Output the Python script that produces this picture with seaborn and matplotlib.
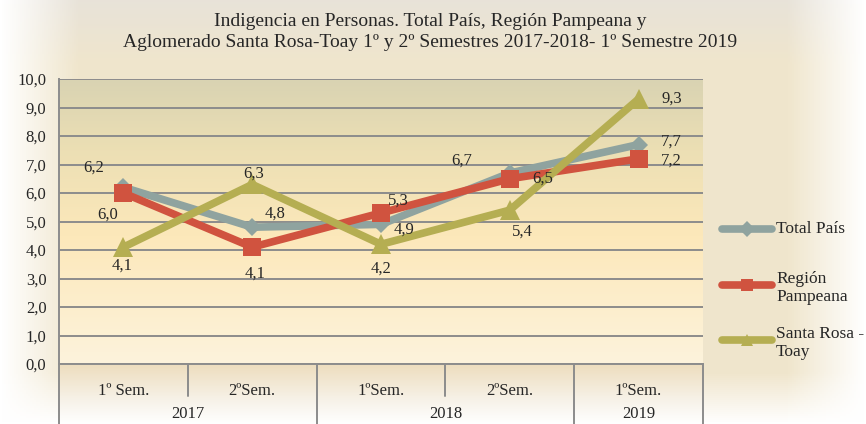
import numpy as np
import pandas as pd
import seaborn as sns
import matplotlib
matplotlib.use("Agg")
import matplotlib.pyplot as plt
from matplotlib.lines import Line2D
from matplotlib.colors import LinearSegmentedColormap
import matplotlib.transforms as mtransforms

# ---- data ----
semesters = ["1º Sem.", "2ºSem.", "1ºSem.", "2ºSem.", "1ºSem."]
years = ["2017", "2018", "2019"]
year_spans = [(0, 1), (2, 3), (4, 4)]
total_pais = [6.2, 4.8, 4.9, 6.7, 7.7]
region_pampeana = [6.0, 4.1, 5.3, 6.5, 7.2]
santa_rosa = [4.1, 6.3, 4.2, 5.4, 9.3]
series_names = ["Total País", "Región Pampeana", "Santa Rosa - Toay"]
legend_labels = ["Total País", "Región\nPampeana", "Santa Rosa -\nToay"]
y_ticks = [0, 1, 2, 3, 4, 5, 6, 7, 8, 9, 10]
title = ("Indigencia en Personas. Total País, Región Pampeana y\n"
         "Aglomerado Santa Rosa-Toay 1º y 2º Semestres 2017-2018- 1º Semestre 2019")

colors = ["#8FA39F", "#D0533F", "#B5AE52"]
markers = ["D", "s", "^"]
msizes = [9, 13, 14]
FS = 12

sns.set_style("white")
plt.rcParams["font.family"] = ["Liberation Serif", "DejaVu Serif"]

fig = plt.figure(figsize=(8.66, 4.24), dpi=100)

# figure background vignette
bg = fig.add_axes([0, 0, 1, 1], zorder=-10)
bg.set_axis_off()
h, w = 212, 433
yy, xx = np.mgrid[0:h, 0:w]
xn = xx / (w - 1)
yn = yy / (h - 1)
edge_x = np.clip(np.minimum(xn, 1 - xn) / 0.09, 0, 1)
edge_y = np.clip((1 - yn) / 0.12, 0, 1)
top_f = np.clip(yn / 0.15, 0, 1)
mix = edge_x * edge_y
base = np.array([0.94, 0.90, 0.80])
topc = np.array([0.91, 0.89, 0.85])
col = base[None, None, :] * top_f[..., None] + topc[None, None, :] * (1 - top_f[..., None])
img = col * mix[..., None] + np.ones(3) * (1 - mix[..., None])
bg.imshow(img, extent=[0, 1, 0, 1], aspect="auto", origin="upper")
bg.set_xlim(0, 1); bg.set_ylim(0, 1)

ax = fig.add_axes([59 / 866, 1 - 364 / 424, 644 / 866, 285 / 424])
ax.patch.set_alpha(0)

# plot area gradient
grad = LinearSegmentedColormap.from_list(
    "g", [(0, "#FDF3DC"), (0.45, "#FCE8BA"), (0.75, "#ECDFB4"), (1, "#D9D3B2")])
ax.imshow(np.linspace(0, 1, 256)[:, None], extent=[-0.5, 4.5, 0, 10], origin="lower",
          aspect="auto", cmap=grad, zorder=0)

x = np.arange(len(semesters))
df = pd.DataFrame({"x": np.tile(x, 3),
                   "valor": total_pais + region_pampeana + santa_rosa,
                   "serie": np.repeat(series_names, len(x))})

for name, c, m, ms in zip(series_names, colors, markers, msizes):
    sub = df[df["serie"] == name]
    sns.lineplot(data=sub, x="x", y="valor", color=c, linewidth=5.5, marker=m,
                 markersize=ms, markeredgewidth=0, ax=ax, zorder=3,
                 legend=False)

ax.set_xlim(-0.5, 4.5)
ax.set_ylim(0, 10)
ax.set_yticks(y_ticks)
ax.set_yticklabels([f"{v:.1f}".replace(".", ",") for v in y_ticks], fontsize=FS)
ax.yaxis.grid(True, color="#8C8C8C", linewidth=1.4, zorder=1)
ax.set_axisbelow(True)
ax.tick_params(axis="y", length=5, color="#8C8C8C", width=1.2, pad=4)
ax.set_xticks(x)
ax.set_xticklabels(semesters, fontsize=FS)
ax.tick_params(axis="x", length=0, pad=14)
ax.set_xlabel(""); ax.set_ylabel("")
for s in ["top", "right"]:
    ax.spines[s].set_visible(False)
ax.spines["left"].set_color("#8C8C8C")
ax.spines["left"].set_linewidth(1.4)
ax.spines["bottom"].set_color("#8C8C8C")
ax.spines["bottom"].set_linewidth(1.4)

# category area gradient below axis
cat = fig.add_axes([59 / 866, 0, 644 / 866, 60 / 424], zorder=-5)
cat.set_axis_off()
cgrad = LinearSegmentedColormap.from_list("c", [(0, "#FFFFFF"), (0.4, "#F7F2E8"), (1, "#EDDDBE")])
cat.imshow(np.linspace(0, 1, 128)[:, None], extent=[0, 1, 0, 1], origin="lower",
           aspect="auto", cmap=cgrad)

# separators
trans = mtransforms.blended_transform_factory(ax.transData, ax.transAxes)
for xb in [-0.5, 1.5, 3.5, 4.5]:
    ax.add_line(Line2D([xb, xb], [0, -0.22], transform=trans, color="#8C8C8C",
                       linewidth=1.4, clip_on=False))
for xb in [0.5, 2.5]:
    ax.add_line(Line2D([xb, xb], [0, -0.112], transform=trans, color="#8C8C8C",
                       linewidth=1.4, clip_on=False))
for yr, (a, b) in zip(years, year_spans):
    ax.text((a + b) / 2, -0.177, yr, transform=trans, ha="center", va="center",
            fontsize=FS)

# data labels (offsets in pixels)
offsets = [
    [(-30, 20), (23, 14), (23, -5), (-48, 12), (33, 3)],
    [(-16, -22), (3, -26), (17, 12), (33, 0), (33, -2)],
    [(-1, -18), (1, 11), (0, -24), (13, -22), (33, 0)],
]
for vals, offs in zip([total_pais, region_pampeana, santa_rosa], offsets):
    for xi, v, (dx, dy) in zip(x, vals, offs):
        ax.annotate(f"{v:.1f}".replace(".", ","), (xi, v), xytext=(dx, dy),
                    textcoords="offset pixels", ha="center", va="center",
                    fontsize=FS, zorder=5)

# title
fig.text(0.497, 1 - 32 / 424, title, ha="center", va="center", fontsize=14,
         linespacing=1.33)

# legend (manual)
leg_y = [229, 285, 340]
for lab, c, m, ly in zip(legend_labels, colors, markers, leg_y):
    yf = 1 - ly / 424
    fig.add_artist(Line2D([722 / 866, 772 / 866], [yf, yf], color=c, linewidth=5.5,
                          solid_capstyle="round"))
    fig.add_artist(Line2D([747 / 866], [yf], color=c, marker=m, markersize=8,
                          markeredgewidth=0, linestyle="none"))
    multi = "\n" in lab
    fig.text(776 / 866, yf, lab, ha="left", va="top" if multi else "center",
             fontsize=12.5, linespacing=1.15,
             transform=fig.transFigure + mtransforms.ScaledTranslation(0, 10 / 72 if multi else 0, fig.dpi_scale_trans))

fig.savefig("out.png", dpi=100)
